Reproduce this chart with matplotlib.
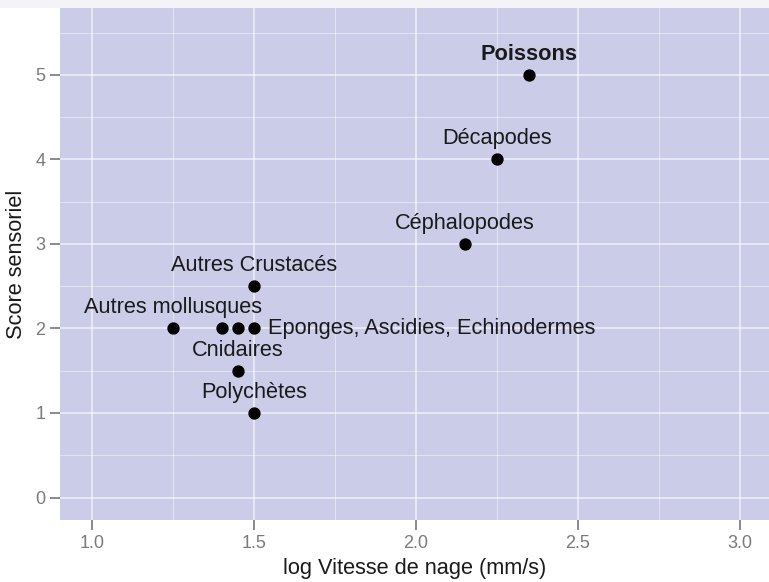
import matplotlib
matplotlib.use("Agg")
import matplotlib.pyplot as plt
from matplotlib.patches import Rectangle
from matplotlib.ticker import MultipleLocator

plt.rcParams['font.family'] = ['Liberation Sans', 'DejaVu Sans']

# groupes, vitesse de nage (log mm/s) et score sensoriel
GROUPS = ["Poissons", "Décapodes", "Céphalopodes", "Autres Crustacés",
          "Autres mollusques", "", "", "Eponges, Ascidies, Echinodermes",
          "Cnidaires", "Polychètes"]
LOG_SPEED = [2.35, 2.25, 2.15, 1.5, 1.25, 1.4, 1.45, 1.5, 1.45, 1.5]
SCORE = [5, 4, 3, 2.5, 2, 2, 2, 2, 1.5, 1]
X_TICKS = [1.0, 1.5, 2.0, 2.5, 3.0]
X_TICK_LABELS = ["1.0", "1.5", "2.0", "2.5", "3.0"]

W, H = 769, 582
fig = plt.figure(figsize=(W / 100, H / 100), dpi=100, facecolor="white")
# thin light band along the top edge
fig.patches.append(Rectangle((0, 1 - 8 / H), 1, 8 / H, transform=fig.transFigure,
                             facecolor="#f3f3f8", edgecolor="none", zorder=0))

ax = fig.add_axes([60 / W, (H - 520) / H, (W - 60) / W, 512 / H])
ax.set_facecolor("#cacce8")
for s in ax.spines.values():
    s.set_visible(False)

ax.set_xlim(0.901, 3.09)
ax.set_ylim(-0.266, 5.79)
ax.xaxis.set_minor_locator(MultipleLocator(0.25))
ax.yaxis.set_major_locator(MultipleLocator(1))
ax.yaxis.set_minor_locator(MultipleLocator(0.5))
ax.set_xticks(X_TICKS)
ax.set_xticklabels(X_TICK_LABELS)

ax.grid(which="major", color="white", linewidth=1.1, alpha=0.7)
ax.grid(which="minor", color="white", linewidth=0.6, alpha=0.55)
ax.set_axisbelow(True)
ax.tick_params(which="major", length=7, width=1.3, color="#808080",
               labelcolor="#7a7a7a", labelsize=13, pad=3.5)
ax.tick_params(which="minor", length=0)

ax.scatter(LOG_SPEED, SCORE, s=62, color="black", zorder=3)

for name, x, y in zip(GROUPS, LOG_SPEED, SCORE):
    if not name:
        continue
    if name.startswith("Eponges"):
        ax.annotate(name, (x, y), xytext=(10, -4), textcoords="offset points",
                    ha="left", va="baseline", fontsize=15.7, color="#1a1a1a")
    else:
        ax.annotate(name, (x, y), xytext=(0, 10.8), textcoords="offset points",
                    ha="center", va="baseline", fontsize=15.7, color="#1a1a1a",
                    fontweight="bold" if name == "Poissons" else "normal")

ax.set_xlabel("log Vitesse de nage (mm/s)", fontsize=15.7, color="#1a1a1a", labelpad=4.5)
ax.set_ylabel("Score sensoriel", fontsize=15.7, color="#1a1a1a", labelpad=6)

fig.savefig("out.png", dpi=100)
